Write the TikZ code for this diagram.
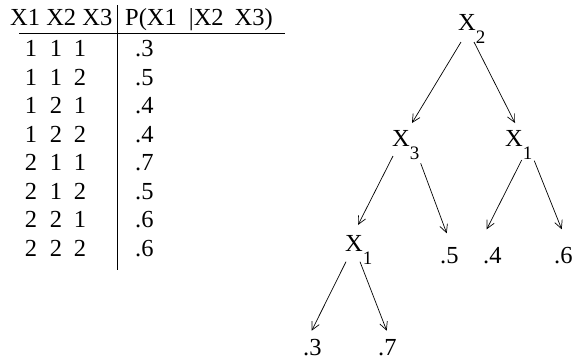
\documentclass[tikz,border=0pt]{standalone}
\usepackage{fontspec}
\setmainfont{Liberation Serif}
\usetikzlibrary{arrows.meta}
\tikzset{
  txt/.style={inner sep=0pt, font=\fontsize{24.5}{28}\selectfont},
  arr/.style={-{Straight Barb[length=8pt,width=8pt]}, line width=0.7pt},
}
\newcommand{\Xsub}[1]{X\raisebox{-13pt}{\fontsize{19}{22}\selectfont#1}}

\begin{document}
\begin{tikzpicture}[x=1pt,y=-1pt]
	\useasboundingbox (0,0) rectangle (573,360);
	
	% Table
	\node[txt, anchor=base west] (hx) at (10,25) {X1 X2 X3};
	\node[txt, anchor=base west] (hp) at (125,25) {P(X1\hspace{12pt}|X2\hspace{11pt}X3)};
	\draw[line width=0.7pt] (117,5) -- (117,270);
	\draw[line width=0.7pt] (19,33) -- (285,33);
	\foreach \a/\b/\c/\pr [count=\i] in {1/1/1/.3, 1/1/2/.5, 1/2/1/.4, 1/2/2/.4, 2/1/1/.7, 2/1/2/.5, 2/2/1/.6, 2/2/2/.6} {
		\node[txt, anchor=base] (a\i) at (31, 28.2+28.5*\i) {\a};
		\node[txt, anchor=base] (b\i) at (56, 28.2+28.5*\i) {\b};
		\node[txt, anchor=base] (c\i) at (80, 28.2+28.5*\i) {\c};
		\node[txt, anchor=base west] (p\i) at (135, 28.2+28.5*\i) {\pr};
	}
	
	% Tree
	\node[txt, anchor=base west] (x2) at (458,30.5) {\Xsub{2}};
	\node[txt, anchor=base west] (x3) at (392,146.5) {\Xsub{3}};
	\node[txt, anchor=base west] (x1a) at (505,146.5) {\Xsub{1}};
	\node[txt, anchor=base west] (x1b) at (345,251.5) {\Xsub{1}};
	\node[txt, anchor=base west] (l5) at (440,263) {.5};
	\node[txt, anchor=base west] (l4) at (483,263) {.4};
	\node[txt, anchor=base west] (l6) at (554,263) {.6};
	\node[txt, anchor=base west] (l3) at (303,355) {.3};
	\node[txt, anchor=base west] (l7) at (378,355) {.7};
	
	\draw[arr] ([shift={(3,11.5)}]x2.base west) -- ([shift={(20,-23.5)}]x3.base west);
	\draw[arr] ([shift={(16,11.5)}]x2.base west) -- ([shift={(10,-23.5)}]x1a.base west);
	\draw[arr] ([shift={(1,9.5)}]x3.base west) -- ([shift={(13,-26.5)}]x1b.base west);
	\draw[arr] ([shift={(28.7,16.8)}]x3.base west) -- ([shift={(6.7,-29.7)}]l5.base west);
	\draw[arr] ([shift={(16.7,13.5)}]x1a.base west) -- ([shift={(3.7,-33.7)}]l4.base west);
	\draw[arr] ([shift={(29.3,14.2)}]x1a.base west) -- ([shift={(7.7,-33.7)}]l6.base west);
	\draw[arr] ([shift={(1,10.2)}]x1b.base west) -- ([shift={(8.7,-24.3)}]l3.base west);
	\draw[arr] ([shift={(15,10.2)}]x1b.base west) -- ([shift={(8.7,-24.3)}]l7.base west);
\end{tikzpicture}
\end{document}
